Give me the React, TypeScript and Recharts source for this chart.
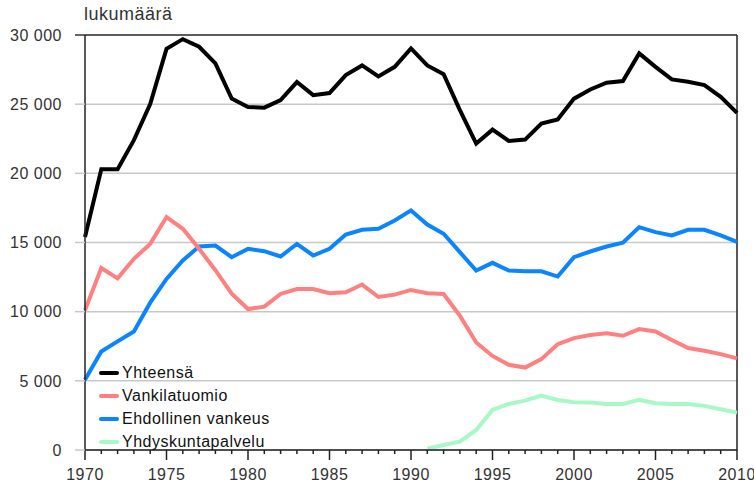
import React from 'react';
import { LineChart, Line, XAxis, YAxis, CartesianGrid, Legend, ReferenceLine } from 'recharts';

const years = [1970,1971,1972,1973,1974,1975,1976,1977,1978,1979,1980,1981,1982,1983,1984,1985,1986,1987,1988,1989,1990,1991,1992,1993,1994,1995,1996,1997,1998,1999,2000,2001,2002,2003,2004,2005,2006,2007,2008,2009,2010];

const yhteensa = [15400,20300,20300,22400,25000,29000,29700,29150,27950,25400,24800,24750,25300,26600,25650,25800,27100,27800,27000,27700,29030,27800,27170,24570,22150,23160,22340,22440,23600,23900,25400,26060,26550,26670,28670,27700,26790,26620,26380,25530,24370];

const vankilatuomio = [10100,13160,12410,13820,14900,16840,15990,14540,13000,11300,10190,10360,11280,11640,11640,11330,11400,11960,11060,11230,11570,11330,11280,9710,7770,6800,6160,5960,6570,7650,8090,8310,8430,8260,8740,8570,7950,7370,7170,6930,6620];

const ehdollinen = [5070,7120,7850,8570,10650,12370,13700,14710,14780,13940,14540,14370,13990,14900,14060,14540,15580,15920,15990,16590,17320,16300,15630,14300,12970,13530,12970,12920,12920,12540,13940,14350,14710,14980,16110,15750,15510,15920,15920,15510,15050];

const yhdyskunta = [null,null,null,null,null,null,null,null,null,null,null,null,null,null,null,null,null,null,null,null,null,100,360,600,1450,2900,3330,3570,3940,3620,3450,3430,3330,3330,3620,3380,3330,3330,3190,2950,2700];

const yTicks = [0,5000,10000,15000,20000,25000,30000];
const xTickYears = years;

const seriesNames = ['Yhteensä','Vankilatuomio','Ehdollinen vankeus','Yhdyskuntapalvelu'];
const seriesColors = ['#000000','#ff8080','#0a84ff','#a8f8c8'];

const data = years.map((y, i) => ({
  year: y,
  a: yhteensa[i],
  b: vankilatuomio[i],
  c: ehdollinen[i],
  d: yhdyskunta[i],
}));

const FONT = '"Liberation Sans", Arial, sans-serif';

const fmt = (v: number) => {
  const s = String(v);
  return s.length > 3 ? s.slice(0, s.length - 3) + ' ' + s.slice(s.length - 3) : s;
};

const XTick = (props: any) => {
  const { x, y, payload } = props;
  const v = payload.value;
  const major = v % 5 === 0;
  return (
    <g>
      <line x1={x} x2={x} y1={y} y2={y + (major ? 10 : 4)} stroke="#222" strokeWidth={1.5} />
      {major && (
        <text x={x} y={y + 30} textAnchor="middle" fill="#333" fontSize={16} fontFamily={FONT} letterSpacing={0.5}>
          {v}
        </text>
      )}
    </g>
  );
};

const YTick = (props: any) => {
  const { x, y, payload } = props;
  const v = payload.value;
  return (
    <g>
      <line x1={x - 10} x2={x} y1={y} y2={y} stroke={v === 30000 ? '#333' : '#c8c8c8'} strokeWidth={1.5} />
      <text x={x - 23} y={y} dy="0.36em" textAnchor="end" fill="#333" fontSize={16} fontFamily={FONT} letterSpacing={0.5}>
        {fmt(v)}
      </text>
    </g>
  );
};

const renderLegend = () => (
  <div style={{ fontFamily: FONT, fontSize: 16, letterSpacing: 0.5, color: '#111' }}>
    {seriesNames.map((n, i) => (
      <div key={n} style={{ display: 'flex', alignItems: 'center', height: 23 }}>
        <svg width={22} height={10} style={{ marginRight: 1 }}>
          <line x1={2} x2={18} y1={5} y2={5} stroke={seriesColors[i]} strokeWidth={4} strokeLinecap="round" />
        </svg>
        <span>{n}</span>
      </div>
    ))}
  </div>
);

export default function App() {
  return (
    <div style={{ position: 'absolute', left: 0, top: 0, width: 754, height: 483, background: '#fff' }}>
      <div style={{ position: 'absolute', left: 84, top: 4, fontFamily: FONT, fontSize: 18, color: '#333', letterSpacing: 0.5 }}>
        lukumäärä
      </div>
      <LineChart width={754} height={483} data={data} margin={{ top: 35, right: 17, bottom: 0, left: 0 }}>
        <CartesianGrid horizontal vertical={false} stroke="#c8c8c8" strokeWidth={1.5} />
        <XAxis
          dataKey="year"
          type="number"
          domain={[1970, 2010]}
          ticks={xTickYears}
          interval={0}
          tickSize={0}
          tickMargin={0}
          tickLine={false}
          height={33}
          axisLine={{ stroke: '#222', strokeWidth: 1.5 }}
          tick={<XTick />}
        />
        <YAxis
          type="number"
          domain={[0, 30000]}
          ticks={yTicks}
          interval={0}
          width={85}
          tickSize={0}
          tickMargin={0}
          tickLine={false}
          axisLine={{ stroke: '#222', strokeWidth: 1.5 }}
          tick={<YTick />}
        />
        <ReferenceLine y={30000} stroke="#333" strokeWidth={1.5} />
        <ReferenceLine x={2010} stroke="#222" strokeWidth={1.5} />
        <Legend
          layout="vertical"
          align="center"
          verticalAlign="middle"
          content={renderLegend}
          wrapperStyle={{ left: 99, top: 361, width: 200, height: 92 }}
        />
        <Line dataKey="d" name={seriesNames[3]} stroke={seriesColors[3]} strokeWidth={4} dot={false} isAnimationActive={false} />
        <Line dataKey="c" name={seriesNames[2]} stroke={seriesColors[2]} strokeWidth={4} dot={false} isAnimationActive={false} />
        <Line dataKey="b" name={seriesNames[1]} stroke={seriesColors[1]} strokeWidth={4} dot={false} isAnimationActive={false} />
        <Line dataKey="a" name={seriesNames[0]} stroke={seriesColors[0]} strokeWidth={4} dot={false} isAnimationActive={false} />
      </LineChart>
    </div>
  );
}
